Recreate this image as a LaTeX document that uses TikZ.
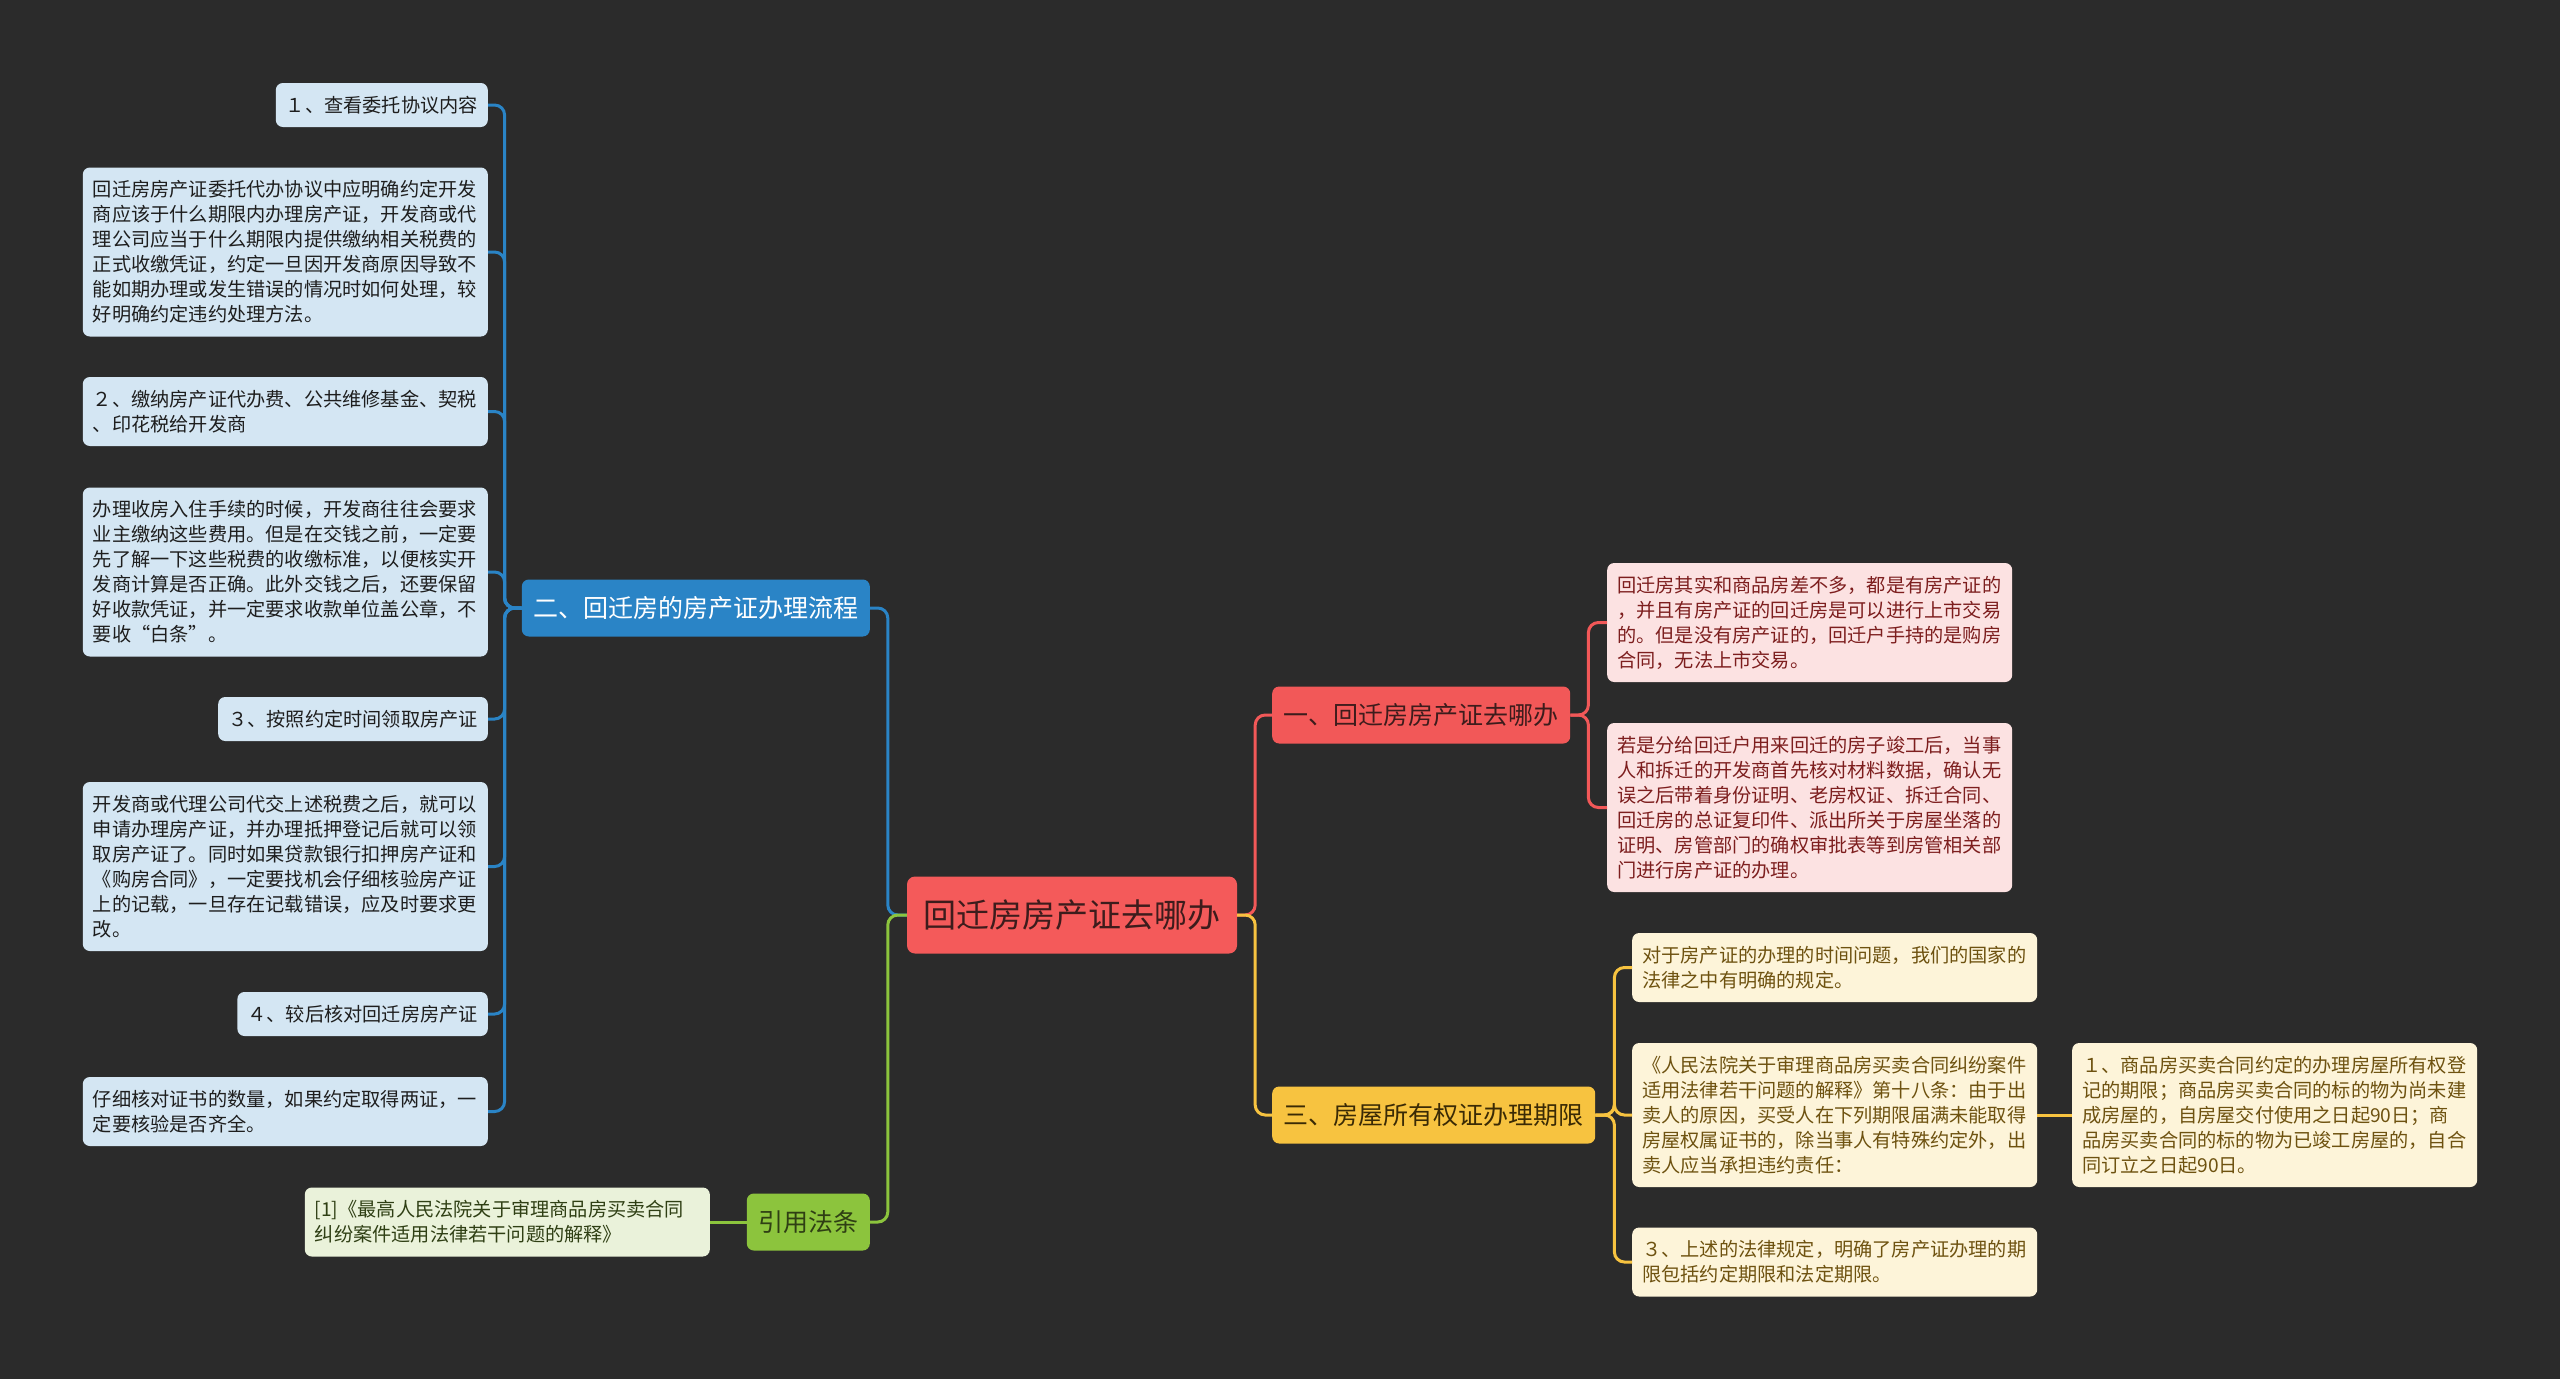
\documentclass[tikz,border=0pt]{standalone}
\usepackage{fontspec}
\setmainfont{Noto Sans CJK SC}
\usetikzlibrary{positioning}
\definecolor{mapbg}{HTML}{2B2B2B}
\definecolor{rootred}{HTML}{F45A5A}
\definecolor{rootink}{HTML}{3D1C1C}
\definecolor{procblue}{HTML}{2A84C6}
\definecolor{leafblue}{HTML}{D4E6F3}
\definecolor{leafink}{HTML}{1E1E1E}
\definecolor{wherered}{HTML}{F25858}
\definecolor{leafpink}{HTML}{FCE2E2}
\definecolor{pinkink}{HTML}{7D1E1E}
\definecolor{termgold}{HTML}{F7C340}
\definecolor{goldink}{HTML}{3A2A05}
\definecolor{leafcream}{HTML}{FDF4D9}
\definecolor{creamink}{HTML}{6E5210}
\definecolor{lawgreen}{HTML}{8CC43D}
\definecolor{leafgreen}{HTML}{EAF2DA}
\definecolor{greenink}{HTML}{2F3F14}

\begin{document}
\begin{tikzpicture}[x=1pt,y=-1pt]
\tikzset{rootbox/.style={fill=rootred,text=rootink,rounded corners=8pt,inner xsep=16.5pt,minimum height=77pt,font=\fontsize{33}{40}\selectfont},
branch/.style={rounded corners=7pt,inner xsep=11.5pt,minimum height=57pt,font=\fontsize{25}{30}\selectfont},
leaf/.style={rounded corners=7pt,inner xsep=10pt,inner ysep=0pt,align=left,minimum height=44pt,font=\fontsize{19.2}{25}\selectfont},
para/.style={leaf,text width=385pt,minimum height=#1*25pt+19pt},
bleaf/.style={fill=leafblue,text=leafink},
pleaf/.style={fill=leafpink,text=pinkink},
cleaf/.style={fill=leafcream,text=creamink},
gleaf/.style={fill=leafgreen,text=greenink},
link/.style={draw=#1,line width=3pt,rounded corners=10pt}}
\fill[mapbg] (0,0) rectangle (2560,1379);

\node[rootbox] (root) at (1072,915) {回迁房房产证去哪办};

\node[branch,fill=procblue,text=white,anchor=east] (proc) at (870,608) {二、回迁房的房产证办理流程};
\node[branch,fill=lawgreen,text=greenink,anchor=east] (law) at (870,1222) {引用法条};
\node[branch,fill=wherered,text=rootink,anchor=west] (where) at (1272,715) {一、回迁房房产证去哪办};
\node[branch,fill=termgold,text=goldink,anchor=west] (term) at (1272,1115) {三、房屋所有权证办理期限};

\node[leaf,bleaf,anchor=east] (l1) at (488,105) {１、查看委托协议内容};
\node[para=6,bleaf,anchor=east] (l2) at (488,252) {回迁房房产证委托代办协议中应明确约定开发\\商应该于什么期限内办理房产证，开发商或代\\理公司应当于什么期限内提供缴纳相关税费的\\正式收缴凭证，约定一旦因开发商原因导致不\\能如期办理或发生错误的情况时如何处理，较\\好明确约定违约处理方法。};
\node[para=2,bleaf,anchor=east] (l3) at (488,411.5) {２、缴纳房产证代办费、公共维修基金、契税\\、印花税给开发商};
\node[para=6,bleaf,anchor=east] (l4) at (488,572) {办理收房入住手续的时候，开发商往往会要求\\业主缴纳这些费用。但是在交钱之前，一定要\\先了解一下这些税费的收缴标准，以便核实开\\发商计算是否正确。此外交钱之后，还要保留\\好收款凭证，并一定要求收款单位盖公章，不\\要收“白条”。};
\node[leaf,bleaf,anchor=east] (l5) at (488,719) {３、按照约定时间领取房产证};
\node[para=6,bleaf,anchor=east] (l6) at (488,866.5) {开发商或代理公司代交上述税费之后，就可以\\申请办理房产证，并办理抵押登记后就可以领\\取房产证了。同时如果贷款银行扣押房产证和\\《购房合同》，一定要找机会仔细核验房产证\\上的记载，一旦存在记载错误，应及时要求更\\改。};
\node[leaf,bleaf,anchor=east] (l7) at (488,1014) {４、较后核对回迁房房产证};
\node[para=2,bleaf,anchor=east] (l8) at (488,1111.5) {仔细核对证书的数量，如果约定取得两证，一\\定要核验是否齐全。};

\node[para=2,gleaf,anchor=east] (cite) at (710,1222) {[1]《最高人民法院关于审理商品房买卖合同\\纠纷案件适用法律若干问题的解释》};

\node[para=4,pleaf,anchor=west] (r1) at (1607,622.5) {回迁房其实和商品房差不多，都是有房产证的\\，并且有房产证的回迁房是可以进行上市交易\\的。但是没有房产证的，回迁户手持的是购房\\合同，无法上市交易。};
\node[para=6,pleaf,anchor=west] (r2) at (1607,807.5) {若是分给回迁户用来回迁的房子竣工后，当事\\人和拆迁的开发商首先核对材料数据，确认无\\误之后带着身份证明、老房权证、拆迁合同、\\回迁房的总证复印件、派出所关于房屋坐落的\\证明、房管部门的确权审批表等到房管相关部\\门进行房产证的办理。};

\node[para=2,cleaf,anchor=west] (y1) at (1632,967.5) {对于房产证的办理的时间问题，我们的国家的\\法律之中有明确的规定。};
\node[para=5,cleaf,anchor=west] (y2) at (1632,1115) {《人民法院关于审理商品房买卖合同纠纷案件\\适用法律若干问题的解释》第十八条：由于出\\卖人的原因，买受人在下列期限届满未能取得\\房屋权属证书的，除当事人有特殊约定外，出\\卖人应当承担违约责任：};
\node[para=2,cleaf,anchor=west] (y3) at (1632,1262) {３、上述的法律规定，明确了房产证办理的期\\限包括约定期限和法定期限。};
\node[para=5,cleaf,anchor=west] (y2a) at (2072,1115) {１、商品房买卖合同约定的办理房屋所有权登\\记的期限；商品房买卖合同的标的物为尚未建\\成房屋的，自房屋交付使用之日起90日；商\\品房买卖合同的标的物为已竣工房屋的，自合\\同订立之日起90日。};

\draw[link=procblue] (root.west) -- ++(-19,0) |- (proc.east);
\draw[link=lawgreen] (root.west) -- ++(-19,0) |- (law.east);
\draw[link=wherered] (root.east) -- ++(18,0) |- (where.west);
\draw[link=termgold] (root.east) -- ++(18,0) |- (term.west);
\foreach \n in {l1,l2,l3,l4,l5,l6,l7,l8}
  \draw[link=procblue] (proc.west) -- ++(-17,0) |- (\n.east);
\draw[link=lawgreen] (law.west) -- (cite.east);
\foreach \n in {r1,r2}
  \draw[link=wherered] (where.east) -- ++(18,0) |- (\n.west);
\foreach \n in {y1,y2,y3}
  \draw[link=termgold] (term.east) -- ++(19,0) |- (\n.west);
\draw[link=termgold] (y2.east) -- (y2a.west);
\end{tikzpicture}
\end{document}
